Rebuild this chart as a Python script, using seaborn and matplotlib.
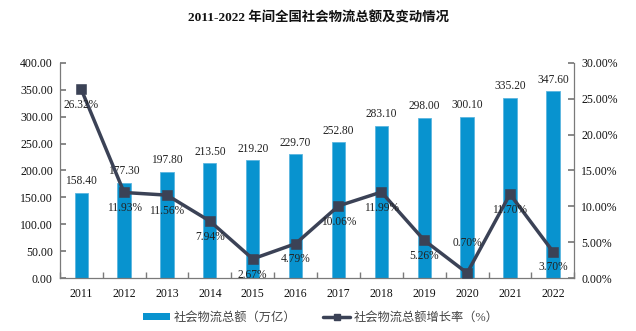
import matplotlib
matplotlib.use("Agg")
import matplotlib.pyplot as plt
import seaborn as sns
import numpy as np
import pandas as pd
from matplotlib.ticker import FuncFormatter, FixedLocator
from matplotlib.lines import Line2D
from matplotlib.patches import Patch

years = ["2011", "2012", "2013", "2014", "2015", "2016", "2017", "2018", "2019", "2020", "2021", "2022"]
totals = [158.40, 177.30, 197.80, 213.50, 219.20, 229.70, 252.80, 283.10, 298.00, 300.10, 335.20, 347.60]
growth = [26.32, 11.93, 11.56, 7.94, 2.67, 4.79, 10.06, 11.99, 5.26, 0.70, 11.70, 3.70]

title = "2011-2022 年间全国社会物流总额及变动情况"
bar_label = "社会物流总额（万亿）"
line_label = "社会物流总额增长率（%）"

sns.set_theme(style="white")
fam = ["Liberation Serif", "Noto Sans CJK SC", "DejaVu Sans"]
plt.rcParams["font.family"] = fam

bar_color = "#0893CF"
line_color = "#3B4256"
axis_color = "#7A7A7A"

df = pd.DataFrame({"year": years, "total": totals, "growth": growth})

fig = plt.figure(figsize=(6.36, 3.31), dpi=100)
ax = fig.add_axes([0.094, 0.160, 0.809, 0.650])
sns.barplot(data=df, x="year", y="total", ax=ax, color=bar_color, width=0.31, saturation=1,
            edgecolor="#5BB6E0", linewidth=0.6)
ax.set_xlim(-0.5, 11.5)
ax.set_ylim(0, 400)
ax.set_yticks(np.arange(0, 401, 50))
ax.yaxis.set_major_formatter(FuncFormatter(lambda v, p: f"{v:.2f}"))
ax.set_xlabel("")
ax.set_ylabel("")

for i, v in enumerate(totals):
    ax.annotate(f"{v:.2f}", (i, v), xytext=(0, 4), textcoords="offset points",
                ha="center", va="bottom", fontsize=8.3, color="#222222")

ax2 = ax.twinx()
sns.pointplot(data=df, x="year", y="growth", ax=ax2, color=line_color, markers="s",
              linestyles="-", markersize=6, linewidth=2.5)
ax2.set_xlim(-0.5, 11.5)
ax2.set_ylim(0, 30)
ax2.set_yticks(np.arange(0, 31, 5))
ax2.yaxis.set_major_formatter(FuncFormatter(lambda v, p: f"{v:.2f}%"))
ax2.set_ylabel("")
ax2.set_xlabel("")

for i, v in enumerate(growth):
    if years[i] == "2020":
        ax2.annotate(f"{v:.2f}%", (i, v), xytext=(0, 17), textcoords="offset points",
                     ha="center", va="bottom", fontsize=8.3, color="#222222")
    else:
        ax2.annotate(f"{v:.2f}%", (i, v), xytext=(0, -7), textcoords="offset points",
                     ha="center", va="top", fontsize=8.3, color="#222222")

for a in (ax, ax2):
    for s in a.spines.values():
        s.set_color(axis_color)
        s.set_linewidth(0.9)
    a.spines["top"].set_visible(False)
ax.spines["right"].set_visible(False)
ax2.spines["left"].set_visible(False)
ax2.spines["bottom"].set_visible(False)

ax.tick_params(axis="y", which="major", length=4, color=axis_color, direction="in",
               labelsize=8.5, labelcolor="#111111", left=True, pad=5)
ax2.tick_params(axis="y", which="major", length=4, color=axis_color, direction="in",
                labelsize=8.5, labelcolor="#111111", right=True, pad=5)
ax.tick_params(axis="x", which="major", length=0, labelsize=8.5, labelcolor="#111111", pad=7)
ax.xaxis.set_minor_locator(FixedLocator(np.arange(-0.5, 12, 1)))
ax.tick_params(axis="x", which="minor", length=4, color=axis_color, direction="in", bottom=True)

handles = [Patch(facecolor=bar_color, edgecolor="none"),
           Line2D([0], [0], color=line_color, marker="s", markersize=5, linewidth=2.5)]
fig.legend(handles, [bar_label, line_label], loc="center", bbox_to_anchor=(0.505, 0.04),
           ncol=2, frameon=False, fontsize=8.8, handlelength=2.2, handleheight=0.5,
           handletextpad=0.3, columnspacing=2.2, labelcolor="#444444")

fig.text(0.5, 0.945, title, ha="center", va="center", fontsize=9.6, fontweight="bold",
         color="#111111")

fig.savefig("out.png", dpi=100)
